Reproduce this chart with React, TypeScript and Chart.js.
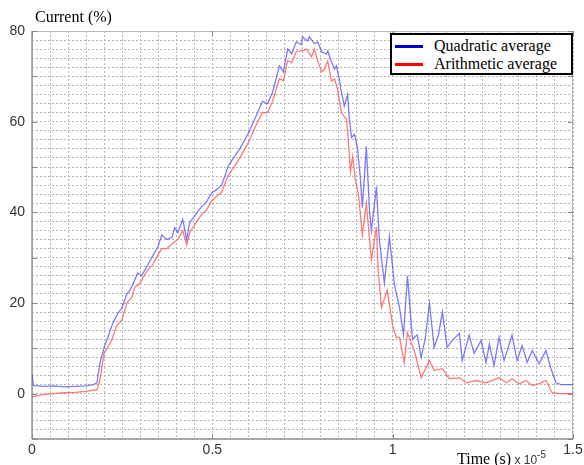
import React, { useEffect, useRef } from "react";
import { Chart, registerables } from "chart.js";

Chart.register(...registerables);

// Time in units of 1e-5 s
const quadTime = [0, 0.004, 0.03, 0.06, 0.09, 0.12, 0.15, 0.17, 0.18, 0.188, 0.2, 0.21, 0.224, 0.238, 0.249, 0.263, 0.271, 0.279, 0.293, 0.304, 0.318, 0.332, 0.349, 0.36, 0.374, 0.388, 0.396, 0.404, 0.418, 0.429, 0.437, 0.457, 0.47, 0.484, 0.498, 0.512, 0.526, 0.543, 0.556, 0.576, 0.59, 0.601, 0.617, 0.639, 0.653, 0.667, 0.686, 0.697, 0.709, 0.72, 0.733, 0.747, 0.75, 0.764, 0.769, 0.783, 0.792, 0.803, 0.816, 0.82, 0.83, 0.839, 0.844, 0.852, 0.858, 0.866, 0.875, 0.88, 0.886, 0.894, 0.902, 0.91, 0.916, 0.927, 0.936, 0.941, 0.955, 0.963, 0.977, 0.991, 1.005, 1.019, 1.03, 1.041, 1.055, 1.068, 1.079, 1.09, 1.102, 1.115, 1.127, 1.138, 1.151, 1.165, 1.185, 1.193, 1.212, 1.226, 1.245, 1.259, 1.268, 1.281, 1.295, 1.309, 1.331, 1.345, 1.359, 1.373, 1.387, 1.406, 1.425, 1.439, 1.453, 1.467, 1.5];
const quadValues = [4.2, 1.8, 1.6, 1.7, 1.5, 1.6, 1.7, 2.0, 2.4, 6.6, 10.2, 12.4, 15.5, 17.7, 18.8, 22, 22.8, 24, 26.6, 26, 28, 30, 32.4, 35, 34, 34.5, 36.6, 35.5, 38.4, 34, 37.7, 39.9, 41.2, 42.3, 44.3, 45, 46, 50, 51.7, 54, 56, 57.6, 60.5, 64.5, 64, 66.5, 72.3, 71, 76, 75, 77.6, 77, 78.7, 77.8, 78.7, 77.2, 77.6, 75.4, 74.9, 75.6, 73.2, 71.6, 72.3, 69.4, 66.5, 63.4, 66, 60.5, 56.5, 57.2, 54.5, 48, 41, 54.5, 40, 36, 45.7, 34, 24.4, 34.6, 24, 19, 13, 26, 12, 13, 8, 12, 20, 10.2, 13, 18, 10.2, 11.7, 13.3, 7.3, 12.9, 8.9, 11.7, 6.9, 11, 6.2, 12.4, 7.3, 12.9, 7.3, 10.6, 6.9, 9.5, 6.6, 9.5, 5.5, 2.4, 2, 2];

const arithTime = [0, 0.03, 0.06, 0.09, 0.12, 0.15, 0.17, 0.18, 0.188, 0.2, 0.22, 0.235, 0.249, 0.263, 0.277, 0.285, 0.296, 0.304, 0.318, 0.335, 0.349, 0.36, 0.374, 0.388, 0.404, 0.418, 0.429, 0.437, 0.457, 0.47, 0.484, 0.498, 0.512, 0.526, 0.543, 0.556, 0.576, 0.59, 0.601, 0.617, 0.639, 0.653, 0.667, 0.686, 0.697, 0.709, 0.72, 0.733, 0.747, 0.761, 0.775, 0.783, 0.792, 0.803, 0.811, 0.82, 0.83, 0.839, 0.847, 0.858, 0.872, 0.875, 0.883, 0.889, 0.897, 0.905, 0.916, 0.927, 0.941, 0.955, 0.96, 0.969, 0.985, 1.0, 1.01, 1.019, 1.032, 1.041, 1.06, 1.079, 1.102, 1.115, 1.138, 1.157, 1.185, 1.204, 1.232, 1.259, 1.295, 1.315, 1.331, 1.351, 1.37, 1.387, 1.406, 1.425, 1.442, 1.461, 1.5];
const arithValues = [-0.7, -0.2, 0, 0.2, 0.3, 0.5, 0.8, 0.8, 2.9, 8.9, 11.7, 15, 16.2, 20, 21.3, 23.5, 24, 25, 27, 28.5, 30.6, 32, 32, 33, 34, 36, 32.8, 35.5, 38, 39.5, 40.5, 42.5, 43.5, 44.5, 48, 49.5, 52, 54, 55.5, 58.5, 62, 62, 64.5, 69.5, 69, 73.5, 73, 75.5, 75.6, 76, 74.3, 76, 73.4, 71, 71.6, 73.4, 69, 69.4, 67.2, 62, 60.5, 58, 49, 52.3, 47, 44, 35, 42, 29.5, 36.8, 27, 19, 22.8, 15, 12.4, 12.4, 6.9, 13.5, 9.5, 3.5, 7.3, 5.1, 5.5, 3.3, 3.5, 2.4, 2.9, 2.4, 3.5, 2.4, 3.3, 2.2, 2.9, 1.8, 2.2, 2.9, 0.2, 0, 0];

const seriesNames = ["Quadratic average", "Arithmetic average"];
const xTickValues = [0, 0.5, 1, 1.5];
const xTickLabels = ["0", "0.5", "1", "1.5"];
const yTickValues = [0, 20, 40, 60, 80];
const yMajorMarks = [-10, 0, 10, 20, 30, 40, 50, 60, 70, 80];

const frameAndTicks = {
  id: "frameAndTicks",
  beforeDatasetsDraw(chart: any) {
    const { ctx, chartArea: a, scales } = chart;
    ctx.save();
    ctx.strokeStyle = "#b8b8b8";
    ctx.lineWidth = 1;
    ctx.strokeRect(a.left + 0.5, a.top + 0.5, a.right - a.left - 1, a.bottom - a.top - 1);
    ctx.strokeStyle = "#9a9a9a";
    ctx.lineWidth = 1.5;
    ctx.beginPath();
    ctx.moveTo(a.left, a.bottom);
    ctx.lineTo(a.right, a.bottom);
    ctx.moveTo(a.left, a.top);
    ctx.lineTo(a.left, a.bottom);
    ctx.stroke();
    ctx.strokeStyle = "#888";
    ctx.lineWidth = 1;
    ctx.beginPath();
    for (const v of yMajorMarks) {
      const y = Math.round(scales.y.getPixelForValue(v)) + 0.5;
      ctx.moveTo(a.left, y);
      ctx.lineTo(a.left + 5, y);
      ctx.moveTo(a.right, y);
      ctx.lineTo(a.right - 5, y);
    }
    for (const v of xTickValues) {
      const x = Math.round(scales.x.getPixelForValue(v)) + 0.5;
      ctx.moveTo(x, a.bottom);
      ctx.lineTo(x, a.bottom - 5);
      ctx.moveTo(x, a.top);
      ctx.lineTo(x, a.top + 5);
    }
    ctx.stroke();
    ctx.restore();
  },
};

export default function App() {
  const canvasRef = useRef<HTMLCanvasElement | null>(null);

  useEffect(() => {
    const canvas = canvasRef.current;
    if (!canvas) return;
    const chart = new Chart(canvas, {
      type: "line",
      data: {
        datasets: [
          {
            label: seriesNames[0],
            data: quadTime.map((t, i) => ({ x: t, y: quadValues[i] })),
            borderColor: "rgba(70,70,255,0.72)",
            borderWidth: 1.3,
            pointRadius: 0,
            tension: 0,
            order: 1,
          },
          {
            label: seriesNames[1],
            data: arithTime.map((t, i) => ({ x: t, y: arithValues[i] })),
            borderColor: "rgba(255,70,70,0.72)",
            borderWidth: 1.3,
            pointRadius: 0,
            tension: 0,
            order: 2,
          },
        ],
      },
      options: {
        responsive: false,
        animation: false,
        devicePixelRatio: 1,
        layout: { padding: { top: 31, right: 11, left: 0, bottom: 0 } },
        plugins: {
          legend: { display: false },
          tooltip: { enabled: false },
          title: { display: false },
        },
        scales: {
          x: {
            type: "linear",
            min: 0,
            max: 1.5,
            afterFit: (s: any) => {
              s.height = 26;
              s.paddingLeft = 0;
              s.paddingRight = 0;
            },
            ticks: {
              stepSize: 0.05,
              autoSkip: false,
              maxRotation: 0,
              padding: 3,
              color: "#333",
              font: { family: "Liberation Sans, Arial, sans-serif", size: 14 },
              callback: (v: any) => {
                const idx = xTickValues.findIndex((t) => Math.abs(t - Number(v)) < 1e-6);
                return idx >= 0 ? xTickLabels[idx] : "";
              },
            },
            grid: { color: "#b4b4b4", lineWidth: 1, drawTicks: false },
            border: { display: false, dash: [2, 2] },
          },
          y: {
            type: "linear",
            min: -10,
            max: 80,
            afterFit: (s: any) => {
              s.width = 32;
              s.paddingTop = 0;
              s.paddingBottom = 0;
            },
            ticks: {
              stepSize: 2,
              autoSkip: false,
              padding: 7,
              color: "#333",
              font: { family: "Liberation Sans, Arial, sans-serif", size: 14 },
              callback: (v: any) => {
                const n = Number(v);
                return yTickValues.some((t) => Math.abs(t - n) < 1e-6) ? String(Math.round(n)) : "";
              },
            },
            grid: { color: "#b4b4b4", lineWidth: 1, drawTicks: false },
            border: { display: false, dash: [2, 2] },
          },
        },
      },
      plugins: [frameAndTicks],
    });
    return () => chart.destroy();
  }, []);

  const serif = "'Liberation Serif', 'Times New Roman', serif";
  return (
    <div style={{ position: "fixed", left: 0, top: 0, width: 584, height: 465, background: "#fff", overflow: "hidden" }}>
      <canvas ref={canvasRef} width={584} height={465} style={{ width: 584, height: 465, display: "block" }} />
      <div style={{ position: "absolute", left: 35, top: 7, fontFamily: serif, fontSize: 16, color: "#000", whiteSpace: "nowrap", lineHeight: "20px" }}>
        Current (%)
      </div>
      <div style={{ position: "absolute", left: 457, top: 445, fontFamily: serif, fontSize: 16, color: "#000", whiteSpace: "nowrap", lineHeight: "20px" }}>
        Time (s)
        <span style={{ fontFamily: "Liberation Sans, Arial, sans-serif", fontSize: 12, color: "#333" }}> x 10</span>
        <sup style={{ fontFamily: "Liberation Sans, Arial, sans-serif", fontSize: 10, color: "#333", verticalAlign: "6px" }}>-5</sup>
      </div>
      <div
        style={{
          position: "absolute",
          left: 390,
          top: 33,
          width: 179,
          height: 38,
          border: "2px solid #000",
          background: "#fff",
          fontFamily: serif,
          fontSize: 16,
          color: "#000",
        }}
      >
        {[
          { name: seriesNames[0], color: "#0000d0" },
          { name: seriesNames[1], color: "#ff0000" },
        ].map((it, i) => (
          <div key={i} style={{ position: "absolute", left: 3, top: i === 0 ? 2 : 20, height: 18, display: "flex", alignItems: "center", whiteSpace: "nowrap" }}>
            <span style={{ display: "inline-block", width: 28, height: 3, background: it.color, marginRight: 11 }} />
            <span style={{ lineHeight: "18px" }}>{it.name}</span>
          </div>
        ))}
      </div>
    </div>
  );
}
